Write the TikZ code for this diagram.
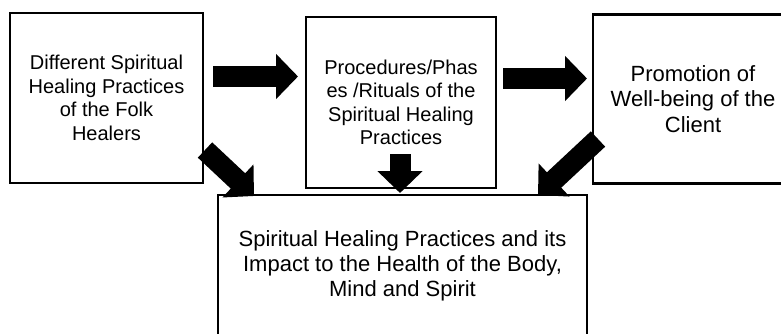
\documentclass[tikz,border=0pt]{standalone}
\usepackage{fontspec}
\setmainfont{Liberation Sans}
\usetikzlibrary{arrows.meta}
\tikzset{
  box/.style={draw=black, line width=2.5pt, fill=white, align=center, inner sep=0pt, text=black},
  smalltext/.style={font=\fontsize{20pt}{23.5pt}\selectfont},
  bigtext/.style={font=\fontsize{22pt}{25.3pt}\selectfont},
  blockarrow/.style={line width=21pt, -{Triangle[width=44pt,length=22pt]}, black}
}
\begin{document}
\begin{tikzpicture}[x=1pt,y=-1pt]
\useasboundingbox (0,0) rectangle (781,333);
\clip (0,0) rectangle (781,333);
\node[box, smalltext, minimum width=193pt, minimum height=170pt] (b1) at (106.5,98)
  {Different Spiritual\\Healing Practices\\of the Folk\\Healers};
\node[box, smalltext, minimum width=190pt, minimum height=171pt] (b2) at (401,102.5)
  {Procedures/Phas\\es /Rituals of the\\Spiritual Healing\\Practices};
\node[box, bigtext, minimum width=200pt, minimum height=169pt] (b3) at (693,99)
  {Promotion of\\Well-being of the\\Client};
\node[box, bigtext, minimum width=369pt, minimum height=142pt] (b4) at (402.5,266)
  {Spiritual Healing Practices and its\\Impact to the Health of the Body,\\Mind and Spirit};
\coordinate (a1s) at (213,76.5);
\coordinate (a1e) at (298,76.5);
\coordinate (a2s) at (503,78.5);
\coordinate (a2e) at (587,78.5);
\coordinate (a3s) at (205,150);
\coordinate (a3e) at (254,196);
\coordinate (a4s) at (400,154);
\coordinate (a4e) at (400,193);
\coordinate (a5s) at (598,139);
\coordinate (a5e) at (538,195);
\draw[blockarrow] (a1s) -- (a1e);
\draw[blockarrow] (a2s) -- (a2e);
\draw[blockarrow] (a3s) -- (a3e);
\draw[blockarrow] (a4s) -- (a4e);
\draw[blockarrow] (a5s) -- (a5e);
\end{tikzpicture}
\end{document}
